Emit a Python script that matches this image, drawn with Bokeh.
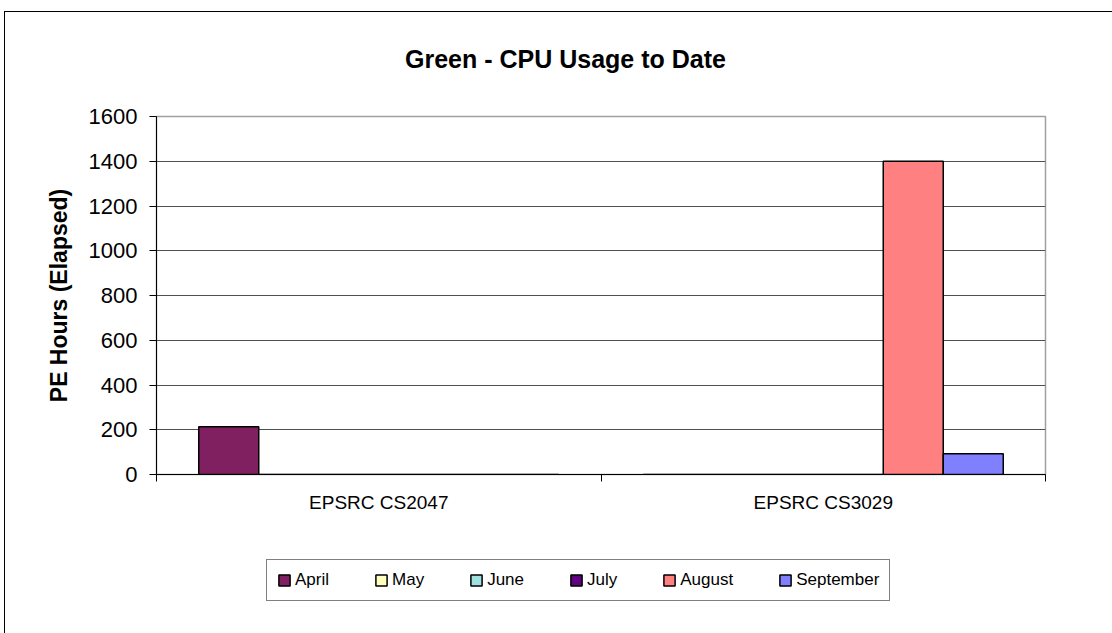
from bokeh.plotting import figure
from bokeh.layouts import column
from bokeh.models import (ColumnDataSource, FixedTicker, Range1d, Legend, LegendItem)
from bokeh.core.properties import value
from bokeh.embed import file_html
from bokeh.resources import INLINE

# ---- data ----
title_text = "Green - CPU Usage to Date"
categories = ["EPSRC CS2047", "EPSRC CS3029"]
months = ["April", "May", "June", "July", "August", "September"]
april = [213, 0]
may = [0, 0]
june = [0, 0]
july = [0, 0]
august = [0, 1400]
september = [0, 93]
series = [april, may, june, july, august, september]
colors = ["#802060", "#FFFFC0", "#A0E0E0", "#600080", "#FF8080", "#8080FF"]
y_ticks = [0, 200, 400, 600, 800, 1000, 1200, 1400, 1600]

FONT = "Liberation Sans"
W = 1107

centers = [i + 0.5 for i in range(len(categories))]
bar_w = 60.0 / 444.5
n = len(months)


def series_x(k):
    return [cx + (k - (n - 1) / 2.0) * bar_w for cx in centers]


def blank(fig):
    fig.xgrid.grid_line_color = None
    fig.ygrid.grid_line_color = None
    fig.outline_line_color = None


# ---- title strip ----
tf = figure(width=W, height=92, output_backend="svg", toolbar_location=None,
            x_axis_location=None, y_axis_location=None,
            x_range=Range1d(0, len(categories)), y_range=Range1d(0, 1),
            min_border_left=0, min_border_right=0, min_border_top=0, min_border_bottom=0,
            background_fill_color="white", border_fill_color="white")
blank(tf)
tf.text(x=[0.92], y=[0.50], text=[title_text], text_align="center",
        text_baseline="middle", text_font=value(FONT), text_font_size="25px",
        text_font_style="bold", text_color="black")

# ---- main chart ----
p = figure(width=W, height=436, output_backend="svg", toolbar_location=None,
           x_range=Range1d(0, len(categories)), y_range=Range1d(0, 1600),
           min_border_left=151, min_border_right=67, min_border_top=12,
           min_border_bottom=66, background_fill_color="white",
           border_fill_color="white")

for k, (m, vals, c) in enumerate(zip(months, series, colors)):
    src = ColumnDataSource(dict(x=series_x(k), top=vals))
    p.vbar(x="x", top="top", bottom=0, width=bar_w, source=src,
           fill_color=c, line_color="black", line_width=1.5)

p.xaxis.ticker = FixedTicker(ticks=centers, minor_ticks=list(range(len(categories) + 1)))
p.xaxis.major_label_overrides = {c: lab for c, lab in zip(centers, categories)}
p.xaxis.major_tick_in = 0
p.xaxis.major_tick_out = 0
p.xaxis.minor_tick_in = 0
p.xaxis.minor_tick_out = 7
p.xaxis.minor_tick_line_color = "black"
p.xaxis.major_label_standoff = 10
p.xaxis.major_label_text_font = FONT
p.xaxis.major_label_text_font_size = "19px"
p.xaxis.major_label_text_color = "black"
p.xaxis.axis_line_color = "black"

p.yaxis.ticker = FixedTicker(ticks=y_ticks)
p.yaxis.minor_tick_line_color = None
p.yaxis.major_tick_in = 0
p.yaxis.major_tick_out = 7
p.yaxis.major_tick_line_color = "black"
p.yaxis.major_label_standoff = 12
p.yaxis.major_label_text_font = FONT
p.yaxis.major_label_text_font_size = "22px"
p.yaxis.major_label_text_color = "black"
p.yaxis.axis_line_color = "black"
p.yaxis.axis_label = "PE Hours (Elapsed)"
p.yaxis.axis_label_text_font = FONT
p.yaxis.axis_label_text_font_size = "23px"
p.yaxis.axis_label_text_font_style = "bold"
p.yaxis.axis_label_standoff = 14
p.yaxis.axis_label_text_color = "black"

p.xgrid.grid_line_color = None
p.ygrid.grid_line_color = "#505050"
p.ygrid.grid_line_width = 1
p.outline_line_color = "#a0a0a0"
p.outline_line_width = 1.5

# ---- legend strip (hidden copies of the series provide the legend swatches) ----
lg = figure(width=W, height=93, output_backend="svg", toolbar_location=None,
            x_axis_location=None, y_axis_location=None,
            x_range=Range1d(0, len(categories)), y_range=Range1d(0, 1600),
            min_border_left=0, min_border_right=0, min_border_top=0, min_border_bottom=0,
            background_fill_color="white", border_fill_color="white")
blank(lg)
items = []
for k, (m, vals, c) in enumerate(zip(months, series, colors)):
    src = ColumnDataSource(dict(x=series_x(k), top=vals))
    r = lg.vbar(x="x", top="top", bottom=0, width=bar_w, source=src,
                fill_color=c, line_color="black", line_width=1.5, visible=False)
    items.append(LegendItem(label=m, renderers=[r]))
legend = Legend(items=items, orientation="horizontal", location=(110, 32),
                label_text_font=FONT, label_text_font_size="17px",
                label_text_color="black",
                glyph_width=14, glyph_height=14, label_standoff=4, spacing=45,
                padding=10, margin=0, border_line_color="black", border_line_width=1,
                label_height=19, background_fill_alpha=1, inactive_fill_alpha=0)
lg.add_layout(legend, "center")

layout = column(tf, p, lg, spacing=0)
layout.styles = {"margin-left": "4px", "margin-top": "11px",
                 "border-left": "1px solid #000", "border-top": "1px solid #000"}

open("out.html", "w").write(file_html(layout, INLINE))
